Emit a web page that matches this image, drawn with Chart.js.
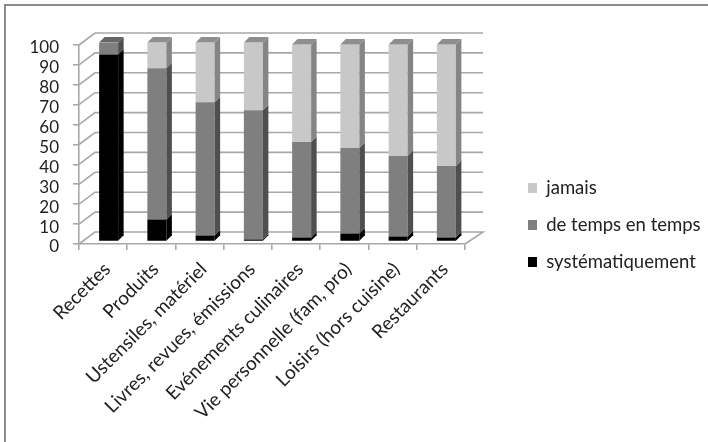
<!DOCTYPE html>
<html>
<head>
<meta charset="utf-8">
<script src="https://cdn.jsdelivr.net/npm/chart.js@4/dist/chart.umd.min.js"></script>
<style>
html, body { margin: 0; background: #fff; }
#wrap { width: 708px; height: 442px; }
canvas { display: block; }
</style>
</head>
<body>
<div id="wrap"><canvas id="chart" width="708" height="442"></canvas></div>
<script>
const categories = ['Recettes', 'Produits', 'Ustensiles, matériel', 'Livres, revues, émissions',
    'Evénements culinaires', 'Vie personnelle (fam, pro)', 'Loisirs (hors cuisine)', 'Restaurants'];
const systematiquement = [94, 11, 3, 1, 2, 4, 2.5, 2];
const deTempsEnTemps = [6, 76, 67, 65, 48, 43, 40.5, 36];
const jamais = [0, 13, 30, 34, 49, 52, 56, 61];
const yTicks = [0, 10, 20, 30, 40, 50, 60, 70, 80, 90, 100];

// faces of the fake 3D columns: front, side, top
const faces = {
    black: ['#000000', '#000000', '#2a2a2a'],
    mid: ['#7f7f7f', '#4f4f4f', '#666666'],
    light: ['#c8c8c8', '#858585', '#8e8e8e']
};
const wallX = 16, wallY = -12;     // depth of the back wall
const barX = 5.5, barY = -2.5;     // columns stand in the middle of the floor
const sideX = 5.5, sideY = -5.5;   // depth of one column
const gridColor = '#a8a8a8';

// back wall, side wall and floor, behind the bars
const wallsPlugin = {
    id: 'walls',
    beforeDatasetsDraw(chart) {
        const ctx = chart.ctx, y = chart.scales.y, a = chart.chartArea;
        ctx.save();
        ctx.strokeStyle = gridColor;
        ctx.lineWidth = 1.6;
        yTicks.forEach(v => {
            const py = y.getPixelForValue(v);
            ctx.beginPath();
            ctx.moveTo(a.left, py);
            ctx.lineTo(a.left + wallX, py + wallY);
            ctx.lineTo(a.right + wallX + 2, py + wallY);
            if (v === 0) ctx.lineTo(a.right, py);
            ctx.stroke();
        });
        ctx.restore();
        ctx.save();
        ctx.translate(barX, barY);
    },
    afterDatasetsDraw(chart) {
        const ctx = chart.ctx;
        chart.data.datasets.forEach((ds, i) => {
            const f = ds.faces;
            chart.getDatasetMeta(i).data.forEach(bar => {
                const p = bar.getProps(['x', 'y', 'base', 'width'], true);
                if (Math.abs(p.base - p.y) < 0.1) return;
                const r = p.x + p.width / 2;
                ctx.fillStyle = f[1];
                ctx.beginPath();
                ctx.moveTo(r, p.y);
                ctx.lineTo(r + sideX, p.y + sideY);
                ctx.lineTo(r + sideX, p.base + sideY);
                ctx.lineTo(r, p.base);
                ctx.closePath();
                ctx.fill();
            });
        });
        // top cap of each stack
        categories.forEach((c, n) => {
            for (let i = chart.data.datasets.length - 1; i >= 0; i--) {
                const bar = chart.getDatasetMeta(i).data[n];
                const p = bar.getProps(['x', 'y', 'base', 'width'], true);
                if (Math.abs(p.base - p.y) < 0.1) continue;
                const l = p.x - p.width / 2, r = p.x + p.width / 2;
                ctx.fillStyle = chart.data.datasets[i].faces[2];
                ctx.beginPath();
                ctx.moveTo(l, p.y);
                ctx.lineTo(l + sideX, p.y + sideY);
                ctx.lineTo(r + sideX, p.y + sideY);
                ctx.lineTo(r, p.y);
                ctx.closePath();
                ctx.fill();
                break;
            }
        });
        ctx.restore();
    }
};

// only the top and left edges of the frame show in the picture
const framePlugin = {
    id: 'frame',
    beforeDraw(chart) {
        const ctx = chart.ctx;
        ctx.save();
        ctx.strokeStyle = '#8c8c8c';
        ctx.lineWidth = 2;
        ctx.beginPath();
        ctx.moveTo(5, 442);
        ctx.lineTo(5, 5);
        ctx.lineTo(708, 5);
        ctx.stroke();
        ctx.restore();
    }
};

// the legend sits well right of the plot and lower than its middle
const legendPlugin = {
    id: 'legendPos',
    afterLayout(chart) {
        const lg = chart.legend;
        const dy = 225 - (lg.top + lg.bottom) / 2;
        lg.left = 528 - lg.options.labels.padding;
        lg.right = 708;
        lg.top += dy; lg.bottom += dy;
    }
};

new Chart(document.getElementById('chart'), {
    type: 'bar',
    data: {
        labels: categories,
        datasets: [
            { label: 'systématiquement', data: systematiquement, backgroundColor: faces.black[0], faces: faces.black },
            { label: 'de temps en temps', data: deTempsEnTemps, backgroundColor: faces.mid[0], faces: faces.mid },
            { label: 'jamais', data: jamais, backgroundColor: faces.light[0], faces: faces.light }
        ]
    },
    options: {
        responsive: false,
        animation: false,
        layout: { padding: { left: 0, top: 45, right: 88, bottom: 0 } },
        datasets: { bar: { categoryPercentage: 1, barPercentage: 0.394 } },
        plugins: {
            tooltip: { enabled: false },
            legend: {
                position: 'right',
                reverse: true,
                labels: {
                    color: '#222',
                    font: { family: 'Lato', size: 18.5 },
                    boxWidth: 9,
                    boxHeight: 10,
                    padding: 18.5
                }
            }
        },
        scales: {
            x: {
                stacked: true,
                afterFit(axis) { axis.height = 198; },
                border: { color: gridColor, width: 1.6 },
                grid: { drawOnChartArea: false, drawTicks: true, tickLength: 6, color: gridColor, lineWidth: 1.6 },
                ticks: {
                    color: '#222',
                    font: { family: 'Lato', size: 19 },
                    minRotation: 45,
                    maxRotation: 45,
                    autoSkip: false,
                    padding: 8,
                    labelOffset: 4
                }
            },
            y: {
                stacked: true,
                min: 0,
                max: 100,
                afterFit(axis) { axis.width = 79; },
                afterBuildTicks(axis) { axis.ticks = yTicks.map(v => ({ value: v })); },
                border: { color: gridColor, width: 1.6 },
                grid: { drawOnChartArea: false, drawTicks: true, tickLength: 6, color: gridColor, lineWidth: 1.6 },
                ticks: { color: '#222', font: { family: 'Lato', size: 17 }, padding: 14, labelOffset: 3, autoSkip: false }
            }
        }
    },
    plugins: [framePlugin, wallsPlugin, legendPlugin]
});
</script>
</body>
</html>
